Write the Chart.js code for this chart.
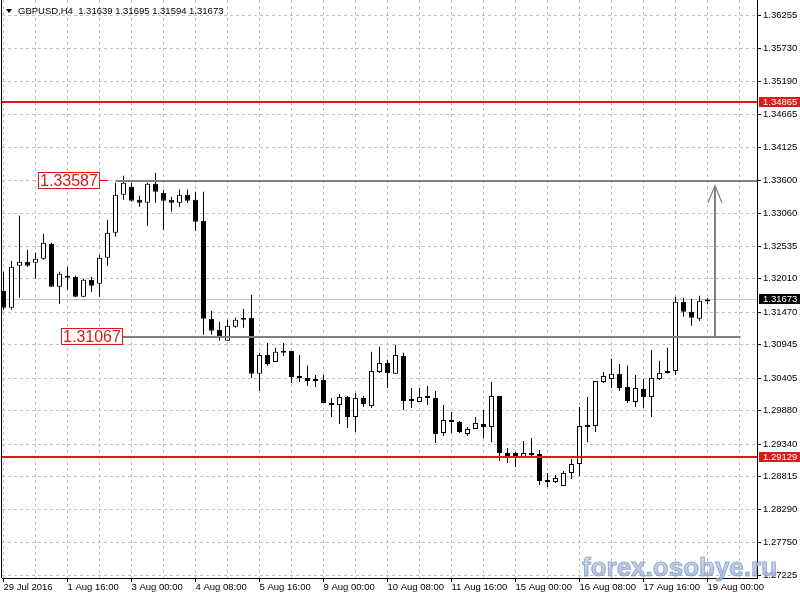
<!DOCTYPE html>
<html>
<head>
<meta charset="utf-8">
<script src="https://cdn.jsdelivr.net/npm/chart.js@4.4.1/dist/chart.umd.min.js"></script>
<style>
    html, body { margin: 0; padding: 0; background: #ffffff; }
    #wrap { width: 800px; height: 600px; }
</style>
</head>
<body>
<div id="wrap"><canvas id="Candles" width="800" height="600"></canvas></div>
<script>
const symbol = 'GBPUSD,H4';
const lastBar = [1.31639, 1.31695, 1.31594, 1.31673];

// H4 bars, 29 Jul 2016 .. 19 Aug 2016 00:00
const opens = [
    1.31812, 1.31538, 1.32216, 1.32281, 1.32265, 1.32329, 1.32572, 1.31877, 1.32055, 1.32039,
    1.31716, 1.31990, 1.31926, 1.32346, 1.32749, 1.33363, 1.33493, 1.33283, 1.33234, 1.33541,
    1.33396, 1.33283, 1.33234, 1.33363, 1.33283, 1.32943, 1.31360, 1.31182, 1.31005, 1.31231,
    1.31344, 1.31376, 1.30472, 1.30778, 1.30665, 1.30843, 1.30843, 1.30439, 1.30407, 1.30391,
    1.30375, 1.30003, 1.29971, 1.30100, 1.29777, 1.30084, 1.29955, 1.30504, 1.30649, 1.30472,
    1.30762, 1.30068, 1.30019, 1.30116, 1.30084, 1.29518, 1.29728, 1.29696, 1.29502, 1.29583,
    1.29664, 1.29615, 1.30116, 1.29195, 1.29195, 1.29115, 1.29195, 1.29179, 1.28759, 1.28727,
    1.28662, 1.28872, 1.29018, 1.29648, 1.29631, 1.30342, 1.30391, 1.30472, 1.30262, 1.30019,
    1.30229, 1.30100, 1.30391, 1.30488, 1.30520, 1.31635, 1.31473, 1.31360, 1.31639
];
const highs = [
    1.32119, 1.32297, 1.33024, 1.32475, 1.32426, 1.32733, 1.32588, 1.32119, 1.32200, 1.32055,
    1.32006, 1.32039, 1.32394, 1.32959, 1.33557, 1.33670, 1.33557, 1.33347, 1.33557, 1.33719,
    1.33444, 1.33331, 1.33444, 1.33444, 1.33412, 1.33412, 1.31489, 1.31312, 1.31344, 1.31376,
    1.31522, 1.31748, 1.30811, 1.30972, 1.30892, 1.30972, 1.30843, 1.30778, 1.30601, 1.30455,
    1.30455, 1.30084, 1.30148, 1.30116, 1.30165, 1.30116, 1.30827, 1.30908, 1.30698, 1.30940,
    1.30811, 1.30245, 1.30245, 1.30278, 1.30197, 1.29971, 1.29858, 1.29712, 1.29615, 1.29777,
    1.29890, 1.30342, 1.30116, 1.29276, 1.29211, 1.29389, 1.29438, 1.29244, 1.28872, 1.28840,
    1.28905, 1.29098, 1.29938, 1.30100, 1.30358, 1.30504, 1.30714, 1.30633, 1.30601, 1.30455,
    1.30391, 1.30859, 1.30682, 1.30892, 1.31716, 1.31699, 1.31683, 1.31732, 1.31695
];
const lows = [
    1.31505, 1.31505, 1.31699, 1.32200, 1.32006, 1.32313, 1.31877, 1.31602, 1.31829, 1.31716,
    1.31716, 1.31796, 1.31716, 1.32216, 1.32685, 1.33283, 1.33250, 1.33169, 1.32862, 1.33234,
    1.32798, 1.33089, 1.33169, 1.33234, 1.32782, 1.31102, 1.31102, 1.31005, 1.31005, 1.31215,
    1.31215, 1.30407, 1.30197, 1.30601, 1.30665, 1.30762, 1.30326, 1.30342, 1.30278, 1.30262,
    1.30003, 1.29777, 1.29664, 1.29599, 1.29535, 1.29938, 1.29922, 1.30488, 1.30245, 1.30472,
    1.29890, 1.29922, 1.30019, 1.29971, 1.29357, 1.29470, 1.29518, 1.29518, 1.29470, 1.29583,
    1.29438, 1.29373, 1.29066, 1.29034, 1.28969, 1.29115, 1.29115, 1.28678, 1.28646, 1.28711,
    1.28662, 1.28775, 1.28824, 1.29373, 1.29535, 1.30326, 1.30245, 1.30197, 1.30003, 1.29938,
    1.29922, 1.29777, 1.30375, 1.30472, 1.30455, 1.31392, 1.31247, 1.31328, 1.31594
];
const closes = [
    1.31538, 1.32200, 1.32281, 1.32216, 1.32329, 1.32588, 1.31877, 1.32087, 1.32022, 1.31716,
    1.31990, 1.31893, 1.32346, 1.32749, 1.33363, 1.33557, 1.33266, 1.33234, 1.33541, 1.33412,
    1.33266, 1.33234, 1.33363, 1.33266, 1.32927, 1.31360, 1.31166, 1.31069, 1.31247, 1.31344,
    1.31376, 1.30472, 1.30778, 1.30633, 1.30827, 1.30811, 1.30423, 1.30407, 1.30358, 1.30358,
    1.30003, 1.29971, 1.30100, 1.29777, 1.30084, 1.29987, 1.30520, 1.30649, 1.30488, 1.30778,
    1.30035, 1.30035, 1.30100, 1.30084, 1.29502, 1.29728, 1.29696, 1.29535, 1.29583, 1.29680,
    1.29615, 1.30116, 1.29195, 1.29147, 1.29115, 1.29195, 1.29163, 1.28743, 1.28727, 1.28791,
    1.28872, 1.29018, 1.29631, 1.29615, 1.30358, 1.30439, 1.30472, 1.30245, 1.30035, 1.30245,
    1.30100, 1.30407, 1.30488, 1.30520, 1.31635, 1.31473, 1.31376, 1.31651, 1.31673
];

// one time label every 8 bars, starting at bar 0
const timeLabels = ['29 Jul 2016', '1 Aug 16:00', '3 Aug 00:00', '4 Aug 08:00', '5 Aug 16:00', '9 Aug 00:00',
    '10 Aug 08:00', '11 Aug 16:00', '15 Aug 00:00', '16 Aug 08:00', '17 Aug 16:00', '19 Aug 00:00'];
const priceTicks = [1.36255, 1.35730, 1.35190, 1.34665, 1.34125, 1.33600, 1.33060, 1.32535, 1.32010,
    1.31470, 1.30945, 1.30405, 1.29880, 1.29340, 1.28815, 1.28290, 1.27750, 1.27225];

// chart objects
const redLevels = [1.34865, 1.29129];
const targetLines = [
    {price: 1.33587, from: 14, to: null, labelEnd: 11.875},
    {price: 1.31067, from: 14.875, to: 92.125, labelEnd: 14.75},
];
const arrowBar = 88.875;
const arrowFrom = 1.31067;
const arrowTo = 1.33509;

const RED = '#dd1a1a';
const FONT = '"Liberation Sans", Arial, sans-serif';

const bodies = opens.map((o, i) => ({x: i, y: [o, closes[i]]}));
const wicks = lows.map((l, i) => ({x: i, y: [l, highs[i]]}));

const gridBars = [];
for (let i = 0; i <= 92; i += 4) {
    gridBars.push(i);
}

const terminalObjects = {
    id: 'terminalObjects',
    beforeDatasetsDraw(chart) {
        const {ctx, chartArea: a, scales: {y}} = chart;
        // bid line
        const yb = Math.round(y.getPixelForValue(lastBar[3])) + 0.5;
        ctx.save();
        ctx.strokeStyle = '#c0c0c0';
        ctx.lineWidth = 1;
        ctx.beginPath();
        ctx.moveTo(a.left, yb);
        ctx.lineTo(a.right, yb);
        ctx.stroke();
        ctx.restore();
    },
    afterDatasetsDraw(chart) {
        const {ctx, chartArea: a, scales: {x, y}} = chart;
        ctx.save();
        ctx.lineWidth = 2;

        ctx.strokeStyle = RED;
        for (const p of redLevels) {
            const py = Math.round(y.getPixelForValue(p));
            ctx.beginPath();
            ctx.moveTo(a.left, py);
            ctx.lineTo(a.right, py);
            ctx.stroke();
        }

        ctx.strokeStyle = '#808080';
        for (const t of targetLines) {
            const py = Math.round(y.getPixelForValue(t.price));
            const x1 = x.getPixelForValue(t.from);
            const x2 = t.to === null ? a.right : x.getPixelForValue(t.to);
            ctx.beginPath();
            ctx.moveTo(x1, py);
            ctx.lineTo(x2, py);
            ctx.stroke();
        }

        // arrow
        const ax = Math.round(x.getPixelForValue(arrowBar));
        const ay1 = y.getPixelForValue(arrowFrom);
        const ay2 = y.getPixelForValue(arrowTo);
        ctx.beginPath();
        ctx.moveTo(ax, ay1);
        ctx.lineTo(ax, ay2);
        ctx.stroke();
        ctx.lineWidth = 1.2;
        ctx.beginPath();
        ctx.moveTo(ax - 7, ay2 + 17);
        ctx.lineTo(ax, ay2);
        ctx.lineTo(ax + 7, ay2 + 17);
        ctx.stroke();

        // price labels
        ctx.font = '16px ' + FONT;
        ctx.textBaseline = 'middle';
        ctx.textAlign = 'center';
        for (const t of targetLines) {
            const py = Math.round(y.getPixelForValue(t.price));
            const text = t.price.toFixed(5);
            const right = Math.round(x.getPixelForValue(t.labelEnd)) + 0.5;
            const w = 61;
            const lineStart = x.getPixelForValue(t.from);
            ctx.fillStyle = '#ffffff';
            ctx.fillRect(right - w, py - 8, w, 16);
            ctx.strokeStyle = RED;
            ctx.lineWidth = 1;
            ctx.strokeRect(right - w, py - 8.5, w, 16);
            if (lineStart - 7 > right) {
                ctx.beginPath();
                ctx.moveTo(right, py - 0.5);
                ctx.lineTo(lineStart - 7, py - 0.5);
                ctx.stroke();
            }
            ctx.fillStyle = RED;
            ctx.fillText(text, right - w / 2, py + 0.5);
        }
        ctx.restore();
    },
    afterDraw(chart) {
        const {ctx, chartArea: a, scales: {y}} = chart;
        ctx.save();

        // price tags on the axis
        ctx.font = '9.5px ' + FONT;
        ctx.textBaseline = 'middle';
        ctx.textAlign = 'left';
        const tags = redLevels.map(p => [p, RED]).concat([[lastBar[3], '#000000']]);
        for (const [p, bg] of tags) {
            const py = Math.round(y.getPixelForValue(p));
            ctx.fillStyle = bg;
            ctx.fillRect(a.right + 2, py - 5, 800 - a.right - 2, 10);
            ctx.fillStyle = '#ffffff';
            ctx.fillText(p.toFixed(5), a.right + 6, py);
        }

        // window border
        ctx.fillStyle = '#000000';
        ctx.fillRect(1, 0, 1, a.bottom);

        // title
        ctx.beginPath();
        ctx.moveTo(6, 9);
        ctx.lineTo(12, 9);
        ctx.lineTo(9, 13);
        ctx.closePath();
        ctx.fill();
        ctx.fillText(symbol + '  ' + lastBar.map(v => v.toFixed(5)).join(' '), 18, 11);

        // watermark
        ctx.font = 'bold 26px ' + FONT;
        ctx.textBaseline = 'alphabetic';
        const grad = ctx.createLinearGradient(0, 556, 0, 578);
        grad.addColorStop(0, 'rgba(200,214,236,0.85)');
        grad.addColorStop(1, 'rgba(160,182,218,0.85)');
        ctx.fillStyle = grad;
        ctx.strokeStyle = 'rgba(125,152,196,0.75)';
        ctx.lineWidth = 1;
        ctx.fillText('forex.osobye.ru', 582, 576);
        ctx.strokeText('forex.osobye.ru', 582, 576);
        ctx.restore();
    }
};

Chart.defaults.font.family = FONT;
Chart.defaults.font.size = 9.5;
Chart.defaults.color = '#000000';

new Chart(document.getElementById('Candles'), {
    type: 'bar',
    data: {
        datasets: [
            {
                label: 'body',
                data: bodies,
                backgroundColor: (c) => closes[c.dataIndex] >= opens[c.dataIndex] ? '#ffffff' : '#000000',
                borderColor: '#000000',
                borderWidth: 1,
                borderSkipped: false,
                barThickness: 5,
                minBarLength: 2,
                inflateAmount: 0,
                grouped: false,
            },
            {
                label: 'wick',
                data: wicks,
                backgroundColor: '#000000',
                borderWidth: 0,
                barThickness: 1,
                inflateAmount: 0,
                grouped: false,
            }
        ]
    },
    options: {
        responsive: false,
        devicePixelRatio: 1,
        animation: false,
        layout: {
            padding: {left: 2, top: 0, right: 0, bottom: 0}
        },
        scales: {
            x: {
                type: 'linear',
                position: 'bottom',
                min: -0.1875,
                max: 94.1875,
                offset: false,
                afterBuildTicks: (scale) => {
                    scale.ticks = gridBars.map(v => ({value: v}));
                },
                afterFit: (scale) => {
                    scale.height = 22;
                    scale.paddingLeft = 0;
                    scale.paddingRight = 0;
                    scale.paddingTop = 0;
                    scale.paddingBottom = 0;
                },
                ticks: {
                    autoSkip: false,
                    maxRotation: 0,
                    align: 'start',
                    padding: 0,
                    color: '#000000',
                    callback: (value) => value % 8 === 0 ? timeLabels[value / 8] : '',
                },
                grid: {
                    color: '#c0c0c0',
                    offset: false,
                    tickLength: 4,
                    tickColor: (c) => (c.tick && c.tick.value % 8 === 0) ? '#000000' : 'rgba(0,0,0,0)',
                },
                border: {
                    display: true,
                    color: '#000000',
                    dash: [3, 3],
                }
            },
            y: {
                type: 'linear',
                position: 'right',
                min: 1.27178,
                max: 1.36505,
                afterBuildTicks: (scale) => {
                    scale.ticks = priceTicks.map(v => ({value: v}));
                },
                afterFit: (scale) => {
                    scale.width = 43;
                    scale.paddingLeft = 0;
                    scale.paddingRight = 0;
                    scale.paddingTop = 0;
                    scale.paddingBottom = 0;
                },
                ticks: {
                    padding: 2,
                    color: '#000000',
                    callback: (value) => value.toFixed(5),
                },
                grid: {
                    color: '#c0c0c0',
                    tickLength: 4,
                    tickColor: '#000000',
                },
                border: {
                    display: true,
                    color: '#000000',
                    dash: [3, 3],
                }
            }
        },
        plugins: {
            legend: {
                display: false
            },
            tooltip: {
                enabled: false
            }
        }
    },
    plugins: [terminalObjects]
});
</script>
</body>
</html>
